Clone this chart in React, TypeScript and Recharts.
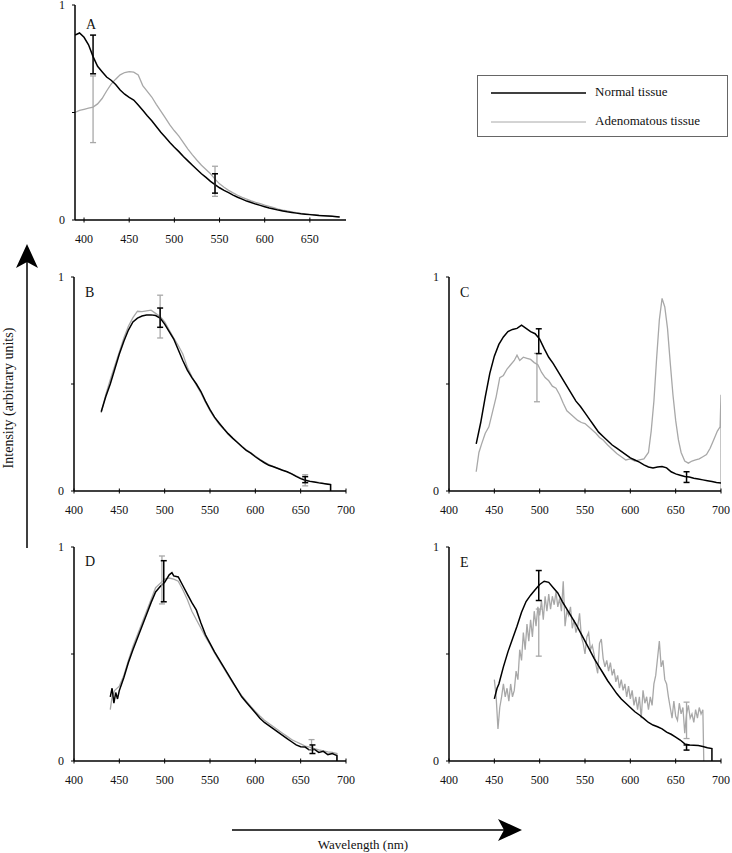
import React from 'react';
import { ComposedChart, Line, Scatter, ErrorBar, XAxis, YAxis } from 'recharts';

const FONT = '"Liberation Serif", "Times New Roman", serif';
const BLACK = '#000000';
const GREY = '#a8a8a8';

// 各パネルのスペクトル [波長 nm, 強度]
const aNormal = [
  [390, 0.86], [395, 0.87], [400, 0.85], [405, 0.815], [410, 0.76], [415, 0.715], [420, 0.69], [425, 0.665],
  [430, 0.65], [435, 0.63], [440, 0.605], [445, 0.585], [450, 0.57], [455, 0.558], [460, 0.535], [465, 0.51],
  [470, 0.485], [475, 0.462], [480, 0.435], [485, 0.408], [490, 0.385], [495, 0.36], [500, 0.338], [505, 0.318],
  [510, 0.295], [515, 0.275], [520, 0.255], [525, 0.235], [530, 0.215], [535, 0.198], [540, 0.18], [545, 0.165],
  [550, 0.15], [555, 0.138], [560, 0.127], [565, 0.116], [570, 0.106], [575, 0.097], [580, 0.088], [585, 0.081],
  [590, 0.074], [595, 0.068], [600, 0.062], [605, 0.056], [610, 0.051], [615, 0.046], [620, 0.042], [625, 0.038],
  [630, 0.035], [635, 0.032], [640, 0.029], [645, 0.027], [650, 0.025], [655, 0.023], [660, 0.021], [665, 0.02],
  [670, 0.019], [675, 0.017], [680, 0.015], [683, 0.014],
];
const aAdeno = [
  [390, 0.5], [395, 0.51], [400, 0.515], [405, 0.52], [410, 0.525], [415, 0.54], [420, 0.565], [425, 0.6],
  [430, 0.632], [435, 0.655], [440, 0.675], [445, 0.686], [450, 0.69], [455, 0.688], [460, 0.675], [465, 0.625],
  [470, 0.598], [475, 0.572], [480, 0.538], [485, 0.506], [490, 0.475], [495, 0.442], [500, 0.415], [505, 0.39],
  [510, 0.36], [515, 0.33], [520, 0.303], [525, 0.278], [530, 0.255], [535, 0.235], [540, 0.215], [545, 0.19],
  [550, 0.168], [555, 0.152], [560, 0.138], [565, 0.126], [570, 0.115], [575, 0.105], [580, 0.097], [585, 0.089],
  [590, 0.082], [595, 0.076], [600, 0.069], [605, 0.063], [610, 0.057], [615, 0.051], [620, 0.046], [625, 0.042],
  [630, 0.038], [635, 0.034], [640, 0.031], [645, 0.028], [650, 0.026], [655, 0.024], [660, 0.022], [665, 0.02],
  [670, 0.019], [675, 0.017], [680, 0.016], [683, 0.015],
];

const bNormal = [
  [430, 0.37], [435, 0.44], [440, 0.5], [445, 0.57], [450, 0.64], [455, 0.7], [460, 0.752], [465, 0.79],
  [470, 0.808], [475, 0.818], [480, 0.822], [485, 0.823], [490, 0.82], [495, 0.808], [500, 0.78], [505, 0.745],
  [510, 0.71], [515, 0.66], [520, 0.61], [525, 0.565], [530, 0.53], [535, 0.5], [540, 0.465], [545, 0.42],
  [550, 0.38], [555, 0.345], [560, 0.318], [565, 0.292], [570, 0.268], [575, 0.247], [580, 0.228], [585, 0.208],
  [590, 0.19], [595, 0.177], [600, 0.16], [605, 0.145], [610, 0.132], [615, 0.12], [620, 0.113], [625, 0.105],
  [630, 0.097], [635, 0.09], [640, 0.08], [645, 0.068], [650, 0.058], [655, 0.05], [660, 0.045], [665, 0.042],
  [670, 0.038], [675, 0.035], [680, 0.032], [683, 0.03], [683, 0],
];
const bAdeno = [
  [430, 0.365], [435, 0.45], [440, 0.52], [445, 0.585], [450, 0.65], [455, 0.715], [460, 0.77], [465, 0.81],
  [470, 0.84], [475, 0.838], [480, 0.842], [485, 0.845], [490, 0.83], [495, 0.815], [500, 0.79], [505, 0.752],
  [510, 0.715], [515, 0.68], [520, 0.64], [525, 0.578], [530, 0.535], [535, 0.495], [540, 0.458], [545, 0.415],
  [550, 0.375], [555, 0.342], [560, 0.313], [565, 0.29], [570, 0.265], [575, 0.245], [580, 0.228], [585, 0.21],
  [590, 0.192], [595, 0.178], [600, 0.163], [605, 0.148], [610, 0.135], [615, 0.123], [620, 0.114], [625, 0.106],
  [630, 0.098], [635, 0.09], [640, 0.081], [645, 0.071], [650, 0.06], [655, 0.052], [660, 0.047], [665, 0.043],
  [670, 0.04], [675, 0.036], [680, 0.033], [683, 0.031], [683, 0],
];

const cNormal = [
  [430, 0.22], [435, 0.32], [440, 0.44], [445, 0.55], [450, 0.63], [455, 0.685], [460, 0.72], [465, 0.745],
  [470, 0.755], [475, 0.76], [480, 0.775], [485, 0.76], [490, 0.745], [495, 0.735], [500, 0.71], [505, 0.665],
  [510, 0.625], [515, 0.595], [520, 0.56], [525, 0.525], [530, 0.49], [535, 0.455], [540, 0.42], [545, 0.395],
  [550, 0.365], [555, 0.335], [560, 0.305], [565, 0.275], [570, 0.255], [575, 0.235], [580, 0.215], [585, 0.2],
  [590, 0.185], [595, 0.17], [600, 0.155], [605, 0.145], [610, 0.135], [615, 0.122], [620, 0.112], [625, 0.108],
  [630, 0.112], [635, 0.114], [640, 0.108], [645, 0.09], [650, 0.08], [655, 0.074], [660, 0.068], [665, 0.065],
  [670, 0.06], [675, 0.056], [680, 0.052], [685, 0.048], [690, 0.044], [695, 0.04], [700, 0.037],
];
const cAdeno = [
  [430, 0.09], [433, 0.18], [436, 0.22], [440, 0.27], [444, 0.3], [448, 0.37], [452, 0.44], [456, 0.53],
  [460, 0.54], [464, 0.57], [468, 0.59], [472, 0.61], [475, 0.635], [478, 0.61], [482, 0.625], [486, 0.62],
  [490, 0.615], [494, 0.6], [498, 0.59], [502, 0.555], [506, 0.53], [510, 0.515], [514, 0.49], [518, 0.48],
  [522, 0.45], [526, 0.41], [530, 0.375], [534, 0.36], [538, 0.345], [542, 0.33], [546, 0.32], [550, 0.315],
  [554, 0.3], [558, 0.285], [562, 0.27], [566, 0.25], [570, 0.238], [575, 0.215], [580, 0.195], [585, 0.175],
  [590, 0.16], [595, 0.145], [600, 0.15], [605, 0.14], [610, 0.145], [615, 0.15], [620, 0.18], [623, 0.28],
  [626, 0.42], [629, 0.62], [632, 0.8], [635, 0.9], [638, 0.86], [641, 0.76], [644, 0.6], [647, 0.45],
  [650, 0.33], [653, 0.24], [656, 0.18], [660, 0.14], [664, 0.13], [668, 0.14], [672, 0.145], [676, 0.15],
  [680, 0.16], [684, 0.17], [688, 0.2], [692, 0.24], [696, 0.28], [699, 0.3], [700, 0.45], [700, 0],
];

const dNormal = [
  [440, 0.3], [442, 0.34], [444, 0.27], [446, 0.32], [448, 0.29], [450, 0.33], [455, 0.39], [460, 0.46],
  [465, 0.52], [470, 0.575], [475, 0.63], [480, 0.685], [485, 0.74], [490, 0.79], [495, 0.815], [500, 0.835],
  [505, 0.87], [508, 0.88], [510, 0.865], [515, 0.86], [520, 0.82], [525, 0.78], [530, 0.74], [535, 0.705],
  [540, 0.645], [545, 0.59], [550, 0.55], [555, 0.51], [560, 0.475], [565, 0.44], [570, 0.405], [575, 0.37],
  [580, 0.335], [585, 0.3], [590, 0.275], [595, 0.25], [600, 0.225], [605, 0.2], [610, 0.18], [615, 0.165],
  [620, 0.15], [625, 0.135], [630, 0.12], [635, 0.105], [640, 0.09], [645, 0.075], [650, 0.067], [655, 0.065],
  [660, 0.05], [665, 0.055], [670, 0.04], [675, 0.045], [680, 0.03], [685, 0.035], [690, 0.025], [690, 0],
];
const dAdeno = [
  [440, 0.24], [442, 0.3], [445, 0.33], [450, 0.35], [455, 0.4], [460, 0.47], [465, 0.535], [470, 0.59],
  [475, 0.645], [480, 0.7], [485, 0.755], [490, 0.81], [495, 0.83], [500, 0.85], [505, 0.855], [510, 0.85],
  [515, 0.84], [520, 0.8], [525, 0.755], [530, 0.7], [535, 0.66], [540, 0.62], [545, 0.58], [550, 0.545],
  [555, 0.505], [560, 0.47], [565, 0.435], [570, 0.4], [575, 0.365], [580, 0.335], [585, 0.305], [590, 0.28],
  [595, 0.255], [600, 0.232], [605, 0.21], [610, 0.19], [615, 0.175], [620, 0.16], [625, 0.145], [630, 0.13],
  [635, 0.115], [640, 0.1], [645, 0.09], [650, 0.08], [655, 0.07], [660, 0.065], [665, 0.058], [670, 0.052],
  [675, 0.047], [680, 0.043], [685, 0.04], [690, 0.035], [690, 0],
];

const eNormal = [
  [450, 0.29], [453, 0.34], [455, 0.36], [460, 0.44], [465, 0.51], [470, 0.57], [475, 0.63], [480, 0.695],
  [485, 0.745], [490, 0.775], [495, 0.8], [500, 0.825], [505, 0.84], [510, 0.835], [515, 0.81], [520, 0.785],
  [525, 0.745], [530, 0.71], [535, 0.675], [540, 0.64], [545, 0.6], [550, 0.56], [555, 0.52], [560, 0.48],
  [565, 0.445], [570, 0.41], [575, 0.375], [580, 0.345], [585, 0.315], [590, 0.29], [595, 0.27], [600, 0.25],
  [605, 0.23], [610, 0.215], [615, 0.198], [620, 0.18], [625, 0.168], [630, 0.16], [635, 0.15], [640, 0.135],
  [645, 0.125], [650, 0.112], [655, 0.098], [660, 0.08], [665, 0.075], [670, 0.074], [675, 0.072], [680, 0.068],
  [685, 0.062], [690, 0.058], [690, 0],
];
const eAdeno = [
  [450, 0.38], [452, 0.3], [454, 0.15], [456, 0.25], [458, 0.3], [460, 0.36], [462, 0.3], [464, 0.34],
  [466, 0.28], [468, 0.36], [470, 0.3], [472, 0.33], [474, 0.42], [476, 0.38], [478, 0.52], [480, 0.47],
  [482, 0.6], [484, 0.52], [486, 0.64], [488, 0.56], [490, 0.66], [492, 0.58], [494, 0.7], [496, 0.63],
  [498, 0.72], [500, 0.68], [502, 0.75], [504, 0.66], [506, 0.77], [508, 0.7], [510, 0.78], [512, 0.71],
  [514, 0.77], [516, 0.73], [518, 0.79], [520, 0.72], [522, 0.76], [524, 0.7], [526, 0.84], [528, 0.63],
  [530, 0.7], [532, 0.68], [534, 0.72], [536, 0.62], [538, 0.66], [540, 0.6], [542, 0.63], [544, 0.69],
  [546, 0.58], [548, 0.55], [550, 0.5], [552, 0.58], [554, 0.6], [556, 0.52], [558, 0.54], [560, 0.5],
  [562, 0.45], [564, 0.41], [566, 0.55], [568, 0.57], [570, 0.48], [572, 0.44], [574, 0.47], [576, 0.42],
  [578, 0.46], [580, 0.4], [582, 0.43], [584, 0.37], [586, 0.4], [588, 0.34], [590, 0.38], [592, 0.33],
  [594, 0.36], [596, 0.3], [598, 0.35], [600, 0.29], [602, 0.33], [604, 0.26], [606, 0.3], [608, 0.24],
  [610, 0.3], [612, 0.2], [614, 0.33], [616, 0.27], [618, 0.3], [620, 0.24], [622, 0.3], [624, 0.26],
  [626, 0.36], [628, 0.4], [630, 0.48], [632, 0.56], [634, 0.44], [636, 0.47], [638, 0.38], [640, 0.36],
  [642, 0.3], [644, 0.25], [646, 0.2], [648, 0.28], [650, 0.21], [652, 0.19], [654, 0.27], [656, 0.22],
  [658, 0.25], [660, 0.13], [662, 0.22], [664, 0.26], [666, 0.2], [668, 0.22], [670, 0.18], [672, 0.24],
  [674, 0.2], [676, 0.25], [678, 0.22], [680, 0.24], [681, 0],
];

// 誤差棒 [波長, 平均, ±]
const aNormalErr = [[410, 0.77, 0.09], [545, 0.17, 0.045]];
const aAdenoErr = [[410, 0.515, 0.155], [545, 0.18, 0.07]];
const bNormalErr = [[495, 0.81, 0.045], [655, 0.053, 0.014]];
const bAdenoErr = [[495, 0.815, 0.1], [655, 0.05, 0.026]];
const cNormalErr = [[499, 0.7, 0.058], [662, 0.065, 0.025]];
const cAdenoErr = [[497, 0.53, 0.113]];
const dNormalErr = [[499, 0.84, 0.096], [663, 0.055, 0.02]];
const dAdenoErr = [[497, 0.846, 0.112], [662, 0.075, 0.025]];
const eNormalErr = [[499, 0.82, 0.07], [662, 0.063, 0.012]];
const eAdenoErr = [[499, 0.6, 0.11], [662, 0.19, 0.085]];

const TICKS_A = [400, 450, 500, 550, 600, 650];
const TICKS = [400, 450, 500, 550, 600, 650, 700];

const toPts = (rows: number[][]) => rows.map(([x, y]) => ({ x, y }));
const toErr = (rows: number[][]) => rows.map(([x, y, err]) => ({ x, y, err }));

function XTick({ x, y, payload }: any) {
  return (
    <g>
      <line x1={x} x2={x} y1={y - 2.5} y2={y + 2.5} stroke={BLACK} strokeWidth={1} />
      <text x={x} y={y + 23} textAnchor="middle" fontSize={12} fontFamily={FONT} fill="#111">
        {payload.value}
      </text>
    </g>
  );
}

const ML = 60;
const MT = 12;
const MR = 14;
const MB = 30;

function Panel({ left, top, width, height, domain, ticks, normal, adeno, normalErr, adenoErr }: any) {
  return (
    <div style={{ position: 'absolute', left: left - ML, top: top - MT }}>
      <ComposedChart
        width={ML + width + MR}
        height={MT + height + MB}
        margin={{ top: MT, right: MR, bottom: 0, left: 0 }}
      >
        <XAxis
          type="number"
          dataKey="x"
          domain={domain}
          ticks={ticks}
          allowDataOverflow
          height={MB}
          tickSize={0}
          tickMargin={0}
          tickLine={false}
          axisLine={{ stroke: BLACK, strokeWidth: 1.5 }}
          tick={<XTick />}
          interval={0}
        />
        <YAxis
          type="number"
          dataKey="y"
          domain={[0, 1]}
          ticks={[0, 0.5, 1]}
          allowDataOverflow
          width={ML}
          tickSize={3}
          tickMargin={7}
          axisLine={{ stroke: BLACK, strokeWidth: 1.5 }}
          tickLine={{ stroke: BLACK, strokeWidth: 1 }}
          tick={{ fontSize: 12, fontFamily: FONT, fill: '#111' }}
          tickFormatter={(v: number) => (v === 0.5 ? '' : String(v))}
          interval={0}
        />
        <Line
          data={toPts(adeno)}
          dataKey="y"
          type="linear"
          stroke={GREY}
          strokeWidth={1.3}
          dot={false}
          activeDot={false}
          isAnimationActive={false}
        />
        <Line
          data={toPts(normal)}
          dataKey="y"
          type="linear"
          stroke={BLACK}
          strokeWidth={1.5}
          dot={false}
          activeDot={false}
          isAnimationActive={false}
        />
        <Scatter data={toErr(adenoErr)} dataKey="y" shape={() => <g />} isAnimationActive={false}>
          <ErrorBar dataKey="err" direction="y" width={3} stroke={GREY} strokeWidth={1.3} isAnimationActive={false} />
        </Scatter>
        <Scatter data={toErr(normalErr)} dataKey="y" shape={() => <g />} isAnimationActive={false}>
          <ErrorBar dataKey="err" direction="y" width={3} stroke={BLACK} strokeWidth={1.5} isAnimationActive={false} />
        </Scatter>
      </ComposedChart>
    </div>
  );
}

const PANELS = [
  { id: 'A', left: 75, top: 5, width: 271, height: 215, domain: [390, 690], ticks: TICKS_A, normal: aNormal, adeno: aAdeno, normalErr: aNormalErr, adenoErr: aAdenoErr, letterDy: 24 },
  { id: 'B', left: 74, top: 277, width: 272, height: 214, domain: [400, 700], ticks: TICKS, normal: bNormal, adeno: bAdeno, normalErr: bNormalErr, adenoErr: bAdenoErr, letterDy: 20 },
  { id: 'C', left: 449, top: 277, width: 272, height: 214, domain: [400, 700], ticks: TICKS, normal: cNormal, adeno: cAdeno, normalErr: cNormalErr, adenoErr: cAdenoErr, letterDy: 20 },
  { id: 'D', left: 74, top: 547, width: 272, height: 214, domain: [400, 700], ticks: TICKS, normal: dNormal, adeno: dAdeno, normalErr: dNormalErr, adenoErr: dAdenoErr, letterDy: 19 },
  { id: 'E', left: 449, top: 547, width: 272, height: 214, domain: [400, 700], ticks: TICKS, normal: eNormal, adeno: eAdeno, normalErr: eNormalErr, adenoErr: eAdenoErr, letterDy: 20 },
];

export default function App() {
  return (
    <div style={{ position: 'absolute', left: 0, top: 0, width: 732, height: 853, background: '#fff', fontFamily: FONT }}>
      {PANELS.map((p) => (
        <Panel key={p.id} {...p} />
      ))}

      {/* 凡例 */}
      <div
        style={{
          position: 'absolute',
          left: 477,
          top: 75,
          width: 251,
          height: 62,
          border: '1px solid #666',
          boxSizing: 'border-box',
        }}
      >
        <svg width={100} height={60} style={{ position: 'absolute', left: 10, top: 0 }}>
          <line x1={3} x2={98} y1={17} y2={17} stroke={BLACK} strokeWidth={1.6} />
          <line x1={3} x2={98} y1={46} y2={46} stroke={GREY} strokeWidth={1} />
        </svg>
        <div style={{ position: 'absolute', left: 117, top: 8, fontSize: 13, color: '#111', lineHeight: '16px' }}>
          Normal tissue
        </div>
        <div style={{ position: 'absolute', left: 117, top: 37, fontSize: 13, color: '#111', lineHeight: '16px' }}>
          Adenomatous tissue
        </div>
      </div>

      {/* パネル記号・軸タイトル・矢印 */}
      <svg width={732} height={853} style={{ position: 'absolute', left: 0, top: 0, pointerEvents: 'none' }}>
        {PANELS.map((p) => (
          <text key={p.id} x={p.left + 11} y={p.top + p.letterDy} fontSize={14} fontFamily={FONT} fill="#111">
            {p.id}
          </text>
        ))}
        <line x1={27} x2={27} y1={262} y2={548} stroke={BLACK} strokeWidth={1.5} />
        <path d="M27 244 L16 268 L27 262 L38 268 Z" fill={BLACK} />
        <text
          x={0}
          y={0}
          transform="translate(13 398) rotate(-90)"
          textAnchor="middle"
          fontSize={14}
          fontFamily={FONT}
          fill="#111"
        >
          Intensity (arbitrary units)
        </text>
        <line x1={232} x2={505} y1={830} y2={830} stroke={BLACK} strokeWidth={1.5} />
        <path d="M522 830 L498 819 L504 830 L498 841 Z" fill={BLACK} />
        <text x={363} y={849} textAnchor="middle" fontSize={13} fontFamily={FONT} fill="#111">
          Wavelength (nm)
        </text>
      </svg>
    </div>
  );
}
